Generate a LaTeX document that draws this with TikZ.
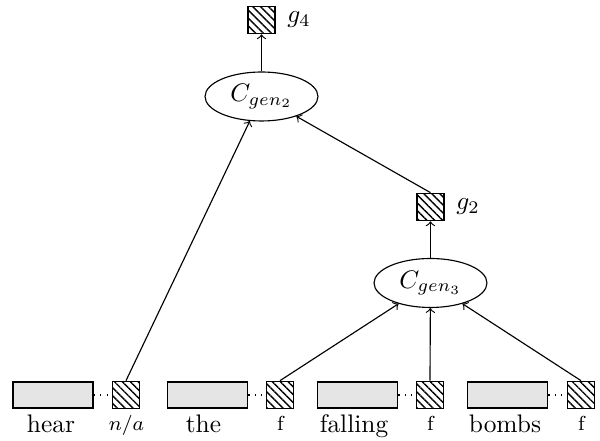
\documentclass[tikz,border=0pt]{standalone}
\usetikzlibrary{shapes.geometric,patterns.meta}
\begin{document}
\begin{tikzpicture}[x=0.394pt,y=-0.394pt,
  wbox/.style={draw,fill=gray!20,minimum width=31.5pt,minimum height=10.2pt,inner sep=0pt,line width=0.5pt},
  hbox/.style={draw,pattern={Lines[angle=-45,distance=2.2pt,line width=0.55pt]},minimum width=10.6pt,minimum height=10.6pt,inner sep=0pt,line width=0.7pt},
  gen/.style={draw,ellipse,minimum width=44.5pt,minimum height=19.3pt,inner sep=0pt,line width=0.45pt},
  conn/.style={->,line width=0.45pt},
  dots/.style={dotted,line width=0.55pt},
  wlabel/.style={anchor=base,inner sep=0pt},
  slabel/.style={anchor=base,inner sep=0pt,font=\footnotesize}]
\useasboundingbox (0,0) rectangle (600,441);
% words
\node[wbox] (w1) at (53,395) {};
\node[hbox] (s1) at (126,395) {};
\node[wbox] (w2) at (207.5,395) {};
\node[hbox] (s2) at (280,395) {};
\node[wbox] (w3) at (357.5,395) {};
\node[hbox] (s3) at (430,395) {};
\node[wbox] (w4) at (507.5,395) {};
\node[hbox] (s4) at (581,395) {};
\draw[dots] (w1.east) -- (s1.west);
\draw[dots] (w2.east) -- (s2.west);
\draw[dots] (w3.east) -- (s3.west);
\draw[dots] (w4.east) -- (s4.west);
\node[wlabel] (l1) at (51,433) {hear};
\node[slabel] (m1) at (126.5,431) {$n/a$};
\node[wlabel] (l2) at (203.5,433) {the};
\node[slabel] (m2) at (280.5,431) {f};
\node[wlabel] (l3) at (354,433) {falling};
\node[slabel] (m3) at (430.5,431) {f};
\node[wlabel] (l4) at (505,433) {bombs};
\node[slabel] (m4) at (581.5,431) {f};
% generators
\node[gen] (c3) at (430.5,283) {$C_{gen_3}$};
\node[hbox] (g2) at (430.5,207) {};
\node[anchor=west,inner sep=0pt] (g2l) at ([xshift=4.3pt]g2.east) {$g_2$};
\node[gen] (c2) at (261.5,96.5) {$C_{gen_2}$};
\node[hbox] (g4) at (261.5,20) {};
\node[anchor=west,inner sep=0pt] (g4l) at ([xshift=4.3pt]g4.east) {$g_4$};
% connectors
\draw[conn] (s2.north) -- (c3);
\draw[conn] (s3.north) -- (c3);
\draw[conn] (s4.north) -- (c3);
\draw[conn] (c3) -- (g2.south);
\draw[conn] (g2.north) -- (c2);
\draw[conn] (s1.north) -- (c2);
\draw[conn] (c2) -- (g4.south);
\end{tikzpicture}
\end{document}
